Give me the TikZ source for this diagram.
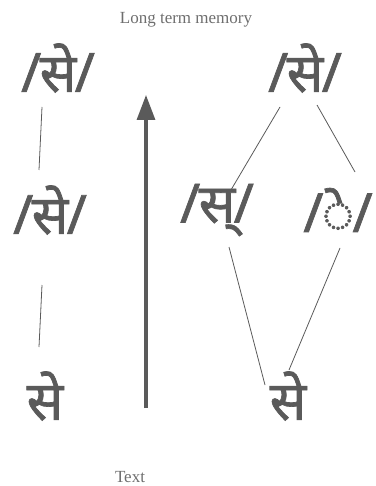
\documentclass[tikz,border=0pt]{standalone}
\usepackage{fontspec}
\setmainfont{Liberation Serif}
\newfontfamily\deva[Script=Devanagari,FakeBold=1.3]{Noto Sans}
\usetikzlibrary{arrows.meta}
\definecolor{ink}{HTML}{5A5A5A}
\definecolor{lbl}{HTML}{6E6E6E}
\newcommand{\slk}{\kern-1.5pt}
\begin{document}
\begin{tikzpicture}[x=1pt,y=-1pt,
  glyph/.style={inner sep=0pt, text=ink, font=\deva\fontsize{54}{54}\selectfont},
  label/.style={inner sep=0pt, text=lbl, font=\fontsize{17}{17}\selectfont},
  link/.style={draw=ink, line width=0.8pt},
  bigarrow/.style={draw=ink, line width=3.2pt, -{Triangle[length=25pt,width=18pt]}}]
\useasboundingbox (0,0) rectangle (375,486);
\node[label] (ltm) at (186,20) {Long term memory};
\node[label] (txt) at (130,477) {Text};
\node[glyph] (tl) at (58,68) {/\slk से\slk/};
\node[glyph] (tr) at (305,68) {/\slk से\slk/};
\node[glyph] (ml) at (50,210) {/\slk से\slk/};
\node[glyph] (ms) at (217,210) {/\slk स्\slk/};
\node[glyph] (me) at (338,210) {/\slk ◌े\slk/};
\node[glyph] (bl) at (45,396) {से};
\node[glyph] (br) at (288,396) {से};
\coordinate (a1) at (42,107); \coordinate (a2) at (39,170);
\coordinate (b1) at (42,285); \coordinate (b2) at (39,347);
\coordinate (c1) at (280,107); \coordinate (c2) at (228,195);
\coordinate (d1) at (317,105); \coordinate (d2) at (355,172);
\coordinate (e1) at (229,247); \coordinate (e2) at (265,385);
\coordinate (f1) at (340,248); \coordinate (f2) at (289,370);
\coordinate (arrbot) at (146,408); \coordinate (arrtop) at (146,95);
\draw[link] (a1) -- (a2);
\draw[link] (b1) -- (b2);
\draw[link] (c1) -- (c2);
\draw[link] (d1) -- (d2);
\draw[link] (e1) -- (e2);
\draw[link] (f1) -- (f2);
\draw[bigarrow] (arrbot) -- (arrtop);
\end{tikzpicture}
\end{document}
